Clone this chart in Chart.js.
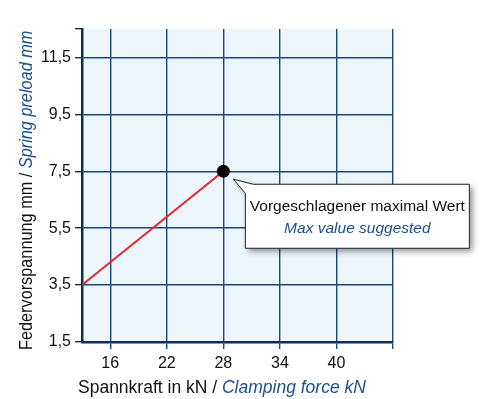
<!DOCTYPE html>
<html lang="de">
<head>
<meta charset="UTF-8">
<title>Federvorspannung</title>
<script src="https://cdn.jsdelivr.net/npm/chart.js"></script>
<style>
    body { margin: 0; background: #fff; }
    #wrap { width: 481px; height: 399px; }
</style>
</head>
<body>
<div id="wrap"><canvas id="chart" width="481" height="399"></canvas></div>
<script>
// Spannkraft (kN) gegen Federvorspannung (mm)
const forceKN = [13, 28];
const preloadMM = [3.5, 7.5];
const xTicks = [16, 22, 28, 34, 40, 46];
const yTicks = [1.5, 3.5, 5.5, 7.5, 9.5, 11.5, 12.5];
const xLabelSkip = [46];
const yLabelSkip = [12.5];

const FONT = '"Liberation Sans", Arial, sans-serif';
const GRID = '#1b4679';
const AXIS = '#0c2f5c';
const BLUE = '#1d4f8c';

const deco = {
    id: 'deco',
    beforeDraw(chart) {
        const { ctx, chartArea: a } = chart;
        ctx.save();
        ctx.fillStyle = '#eef6fd';
        ctx.fillRect(a.left, a.top, a.right - a.left, a.bottom - a.top);
        ctx.restore();
    },
    afterDraw(chart) {
        const { ctx } = chart;
        ctx.save();
        ctx.textBaseline = 'alphabetic';

        // Achsentitel, zweisprachig
        const part = (t, italic, color, size, x, y) => {
            ctx.font = (italic ? 'italic ' : '') + size + 'px ' + FONT;
            ctx.fillStyle = color;
            ctx.fillText(t, x, y);
            return x + ctx.measureText(t).width;
        };
        let x = part('Spannkraft in kN / ', false, '#111', 17.5, 78, 393);
        part('Clamping force kN', true, BLUE, 17.5, x, 393);

        ctx.save();
        ctx.translate(32, 350);
        ctx.rotate(-Math.PI / 2);
        ctx.scale(0.93, 1);
        x = part('Federvorspannung mm / ', false, '#111', 17.5, 0, 0);
        part('Spring preload mm', true, BLUE, 17.5, x, 0);
        ctx.restore();

        // Hinweis am letzten Punkt
        const meta = chart.getDatasetMeta(0);
        const pt = meta.data[meta.data.length - 1];
        const bx = pt.x + 22, by = pt.y + 13, bw = 224, bh = 64;
        ctx.save();
        ctx.shadowColor = 'rgba(0,0,0,0.45)';
        ctx.shadowBlur = 6;
        ctx.shadowOffsetX = 3;
        ctx.shadowOffsetY = 3;
        ctx.beginPath();
        ctx.moveTo(bx, by + 9);
        ctx.lineTo(pt.x + 10, pt.y + 8);
        ctx.lineTo(bx + 8, by);
        ctx.lineTo(bx + bw, by);
        ctx.lineTo(bx + bw, by + bh);
        ctx.lineTo(bx, by + bh);
        ctx.closePath();
        ctx.fillStyle = '#fff';
        ctx.fill();
        ctx.restore();
        ctx.strokeStyle = '#222';
        ctx.lineWidth = 1;
        ctx.stroke();

        ctx.textAlign = 'center';
        ctx.font = '15.5px ' + FONT;
        ctx.fillStyle = '#111';
        ctx.fillText('Vorgeschlagener maximal Wert', bx + bw / 2, by + 27);
        ctx.font = 'italic 15.5px ' + FONT;
        ctx.fillStyle = BLUE;
        ctx.fillText('Max value suggested', bx + bw / 2, by + 49);
        ctx.restore();
    }
};

new Chart(document.getElementById('chart'), {
    type: 'line',
    data: {
        datasets: [{
            data: forceKN.map((v, i) => ({ x: v, y: preloadMM[i] })),
            borderColor: '#e8232a',
            borderWidth: 2,
            pointRadius: [0, 5.5],
            pointBackgroundColor: '#000',
            pointBorderColor: '#000',
            fill: false,
            tension: 0
        }]
    },
    options: {
        responsive: false,
        animation: false,
        events: [],
        layout: { padding: { top: 29, right: 88, left: 0, bottom: 0 } },
        plugins: { legend: { display: false }, tooltip: { enabled: false } },
        scales: {
            x: {
                type: 'linear',
                min: 13,
                max: 46,
                afterBuildTicks: s => { s.ticks = xTicks.map(v => ({ value: v })); },
                afterFit: s => { s.height = 57; },
                grid: { color: GRID, lineWidth: 1.4, tickLength: 7 },
                border: { color: AXIS, width: 2.5 },
                ticks: {
                    padding: 5,
                    color: '#111',
                    font: { family: FONT, size: 16 },
                    maxRotation: 0,
                    callback: v => xLabelSkip.includes(v) ? '' : String(v)
                }
            },
            y: {
                type: 'linear',
                min: 1.5,
                max: 12.5,
                afterBuildTicks: s => { s.ticks = yTicks.map(v => ({ value: v })); },
                afterFit: s => { s.width = 82; },
                grid: {
                    color: c => (c.tick && yLabelSkip.includes(c.tick.value)) ? 'rgba(0,0,0,0)' : GRID,
                    tickColor: AXIS,
                    lineWidth: 1.4,
                    tickLength: 7
                },
                border: { color: AXIS, width: 2.5 },
                ticks: {
                    padding: 4,
                    color: '#111',
                    font: { family: FONT, size: 16 },
                    callback: v => yLabelSkip.includes(v) ? '' : String(v).replace('.', ',')
                }
            }
        }
    },
    plugins: [deco]
});
</script>
</body>
</html>
